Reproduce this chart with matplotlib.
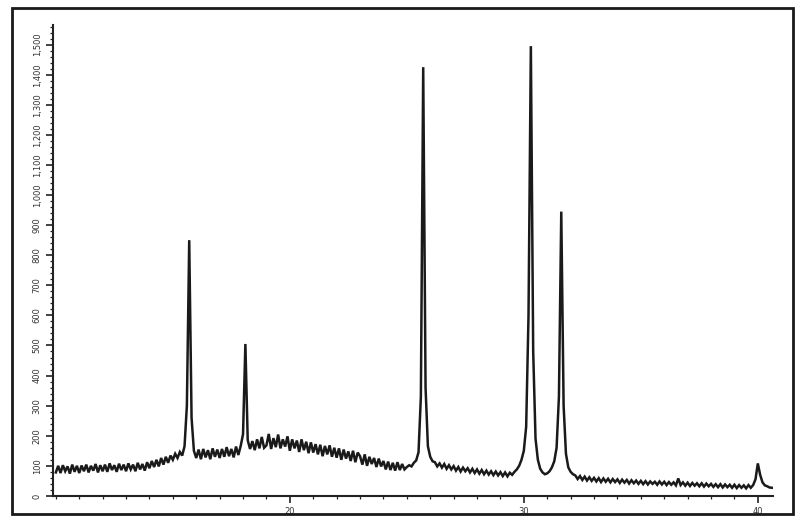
import matplotlib.pyplot as plt
import numpy as np
from matplotlib.patches import Rectangle
from matplotlib.ticker import FixedLocator, FuncFormatter, MultipleLocator


# XRD scan: start angle and step (degrees 2-theta)
SCAN_START = 10.0
SCAN_STEP = 0.1

# counts, one row per degree (x.0 ... x.9)
intensity = [
    78, 100, 76, 102, 82, 98, 74, 104, 80, 100,         # 10
    76, 101, 82, 104, 78, 100, 84, 106, 78, 102,        # 11
    82, 104, 80, 108, 86, 102, 80, 107, 86, 104,        # 12
    82, 108, 88, 104, 82, 110, 88, 106, 84, 112,        # 13
    92, 116, 96, 120, 98, 126, 104, 130, 110, 134,      # 14
    120, 140, 126, 146, 134, 165, 300, 850, 260, 150,   # 15
    126, 154, 122, 156, 128, 152, 122, 158, 130, 154,   # 16
    126, 156, 130, 162, 132, 156, 128, 164, 136, 166,   # 17
    205, 505, 185, 156, 182, 152, 188, 158, 196, 160,   # 18
    168, 206, 156, 192, 162, 204, 158, 188, 164, 198,   # 19
    150, 188, 158, 184, 146, 188, 152, 180, 142, 178,   # 20
    144, 172, 138, 170, 132, 166, 138, 168, 130, 160,   # 21
    127, 158, 120, 154, 124, 148, 116, 150, 112, 144,   # 22
    132, 104, 138, 100, 130, 106, 126, 96, 124, 98,     # 23
    116, 88, 114, 86, 110, 84, 112, 86, 106, 88,        # 24
    96, 102, 98, 110, 118, 145, 330, 1425, 360, 165,    # 25
    130, 115, 112, 98, 108, 94, 106, 90, 102, 88,       # 26
    99, 84, 96, 81, 94, 82, 92, 78, 90, 76,             # 27
    88, 74, 86, 72, 84, 71, 82, 69, 81, 68,             # 28
    79, 66, 78, 65, 77, 70, 80, 88, 100, 120,           # 29
    150, 230, 600, 1495, 480, 190, 120, 90, 78, 72,     # 30
    75, 82, 95, 115, 160, 330, 945, 300, 140, 95,       # 31
    80, 72, 68, 56, 66, 53, 64, 51, 62, 50,             # 32
    60, 48, 59, 46, 58, 47, 57, 45, 56, 46,             # 33
    55, 43, 54, 44, 53, 41, 52, 42, 51, 40,             # 34
    50, 39, 49, 38, 48, 40, 47, 37, 48, 38,             # 35
    47, 36, 46, 37, 45, 35, 58, 36, 45, 34,             # 36
    44, 33, 43, 34, 42, 32, 42, 31, 41, 32,             # 37
    40, 30, 39, 29, 39, 28, 38, 29, 37, 27,             # 38
    37, 26, 36, 27, 35, 25, 36, 27, 36, 55,             # 39
    108, 70, 45, 35, 32, 28, 27,                        # 40
]

x_tick_labels = [20, 30, 40]
y_tick_values = list(range(0, 1600, 100))

two_theta = np.round(SCAN_START + SCAN_STEP * np.arange(len(intensity)), 2)

fig = plt.figure(figsize=(8.0, 5.22), dpi=100)
ax = fig.add_axes([0.066, 0.05, 0.9, 0.902])

ax.plot(two_theta, intensity, color="#1a1a1a", linewidth=1.8, solid_joinstyle="miter")

ax.set_xlim(9.87, 40.64)
ax.set_ylim(0, 1565)

for side in ("top", "right"):
    ax.spines[side].set_visible(False)
for side in ("left", "bottom"):
    ax.spines[side].set_linewidth(1.5)
    ax.spines[side].set_color("#222222")

ax.xaxis.set_major_locator(FixedLocator(x_tick_labels))
ax.xaxis.set_minor_locator(MultipleLocator(1))
ax.yaxis.set_major_locator(FixedLocator(y_tick_values))
ax.yaxis.set_minor_locator(MultipleLocator(20))
ax.yaxis.set_major_formatter(FuncFormatter(lambda v, _: f"{int(v):,}"))

ax.tick_params(axis="both", which="major", direction="out", length=5, width=1.2,
               color="#222222", labelsize=6, labelcolor="#333333", pad=3)
ax.tick_params(axis="both", which="minor", direction="out", length=2.5, width=0.9,
               color="#222222")
for lbl in ax.get_yticklabels():
    lbl.set_rotation(90)
    lbl.set_va("center")

# scanned page frame around the plot
fig.patches.append(Rectangle((0.015, 0.015), 0.976, 0.97, transform=fig.transFigure,
                             fill=False, edgecolor="#1a1a1a", linewidth=2.0))

fig.savefig("out.png", dpi=100)
